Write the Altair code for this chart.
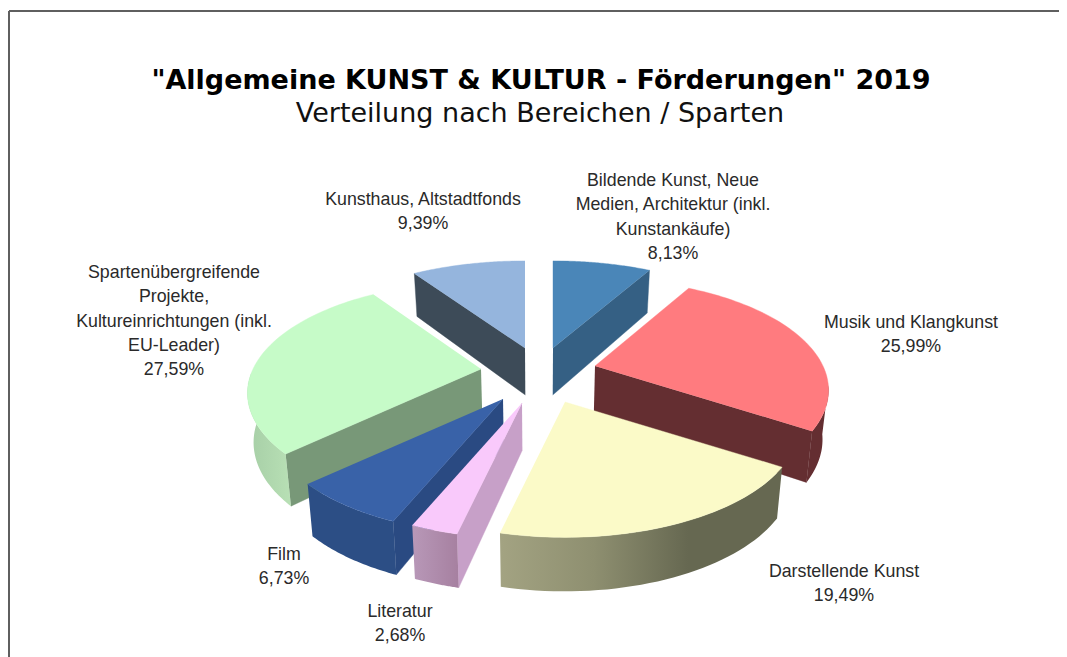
import numpy as np
import pandas as pd
import altair as alt

# --- chart values ---
categories = ["Bildende Kunst, Neue Medien, Architektur (inkl. Kunstankäufe)",
              "Musik und Klangkunst", "Darstellende Kunst", "Literatur", "Film",
              "Spartenübergreifende Projekte, Kultureinrichtungen (inkl. EU-Leader)",
              "Kunsthaus, Altstadtfonds"]
values = [8.13, 25.99, 19.49, 2.68, 6.73, 27.59, 9.39]
title_line = '"Allgemeine KUNST & KULTUR - Förderungen" 2019'
subtitle_line = "Verteilung nach Bereichen / Sparten"
label_lines = [["Bildende Kunst, Neue", "Medien, Architektur (inkl.", "Kunstankäufe)"],
               ["Musik und Klangkunst"], ["Darstellende Kunst"], ["Literatur"], ["Film"],
               ["Spartenübergreifende", "Projekte,", "Kultureinrichtungen (inkl.", "EU-Leader)"],
               ["Kunsthaus, Altstadtfonds"]]

# --- layout and style ---
apex = [(553, 348), (595, 366), (565, 402), (522, 403), (503, 399), (481, 369), (525, 348)]
rx_scale = [1.03, 1.0, 1.0, 1.0, 1.0, 1.0, 1.03]
label_pos = [(673, 181), (911, 323), (844, 572), (400, 612), (284, 555), (174, 273), (423, 200)]
top_col = ["#4a86b8", "#ff7b7f", "#fbfac8", "#f9c9fb", "#3962a8", "#c6fbc8", "#95b5dd"]
side_col = ["#356084", "#642e31", None, "#c7a0c8", "#2a4a82", "#789878", "#3d4b58"]
rim_col = [None, ["#642e31", "#642e31"], ["#a3a382", "#8e8f70", "#666851", "#666851"],
           ["#b898b8", "#a680a0"], ["#2c4e85", "#2c4e85"], ["#a6cea6", "#b8e0b5"], None]
side_edge = ["end", "end", None, "start", "start", "start", "start"]
rim_limits = [None, (100, None), (None, None), (None, None), (None, None), (None, 268), None]
paint_order = [6, 0, 1, 5, 4, 3, 2]
RX, RY, PERSP = 228.0, 106.0, 0.217
CONVERGE, CENTER_X = 0.021, 540.0

X = alt.X("x:Q", scale=alt.Scale(domain=[8, 1059], nice=False, zero=False), axis=None)
Y = alt.Y("y:Q", scale=alt.Scale(domain=[657, 8], nice=False, zero=False), axis=None)


def rim_xy(c, deg, k):
    t = np.radians(deg)
    s = 1.0 / (1.0 + PERSP * np.cos(t))
    return c[0] + RX * rx_scale[k] * np.sin(t) * s, c[1] - RY * np.cos(t) * s


def depth(deg):
    return 48.0 - 6.0 * np.cos(np.radians(deg))


def lower_x(x):
    return x - CONVERGE * (x - CENTER_X)


def poly(xs, ys, fill):
    df = pd.DataFrame({"x": xs, "y": ys, "i": range(len(xs))})
    return alt.Chart(df).mark_line(
        fill=fill, stroke=fill if isinstance(fill, str) else "#777777",
        strokeWidth=0.4 if isinstance(fill, str) else 0, interpolate="linear"
    ).encode(x=X, y=Y, order="i:Q")


def grad(cols):
    n = len(cols) - 1
    return alt.Gradient(gradient="linear", x1=0, x2=1, y1=0, y2=0,
                        stops=[alt.GradientStop(color=c, offset=k / n) for k, c in enumerate(cols)])


edges = np.concatenate([[0], np.cumsum(values)]) * 3.6
layers = []
# frame
frame = pd.DataFrame({"x": [9, 9], "y": [11, 11], "x2": [1059, 9], "y2": [11, 657]})
layers.append(alt.Chart(frame).mark_rule(color="#5f5f5f", strokeWidth=2).encode(x=X, y=Y, x2="x2:Q", y2="y2:Q"))

for k in paint_order:
    a0, a1 = edges[k], edges[k + 1]
    c = apex[k]
    if side_edge[k]:
        e = a1 if side_edge[k] == "end" else a0
        ex, ey = rim_xy(c, e, k)
        layers.append(poly([c[0], ex, lower_x(ex), lower_x(c[0])],
                           [c[1], ey, ey + depth(e), c[1] + 47], side_col[k]))
    if rim_limits[k]:
        lo = rim_limits[k][0] if rim_limits[k][0] is not None else a0
        hi = rim_limits[k][1] if rim_limits[k][1] is not None else a1
        th = np.linspace(lo, hi, 40)
        rx, ry = rim_xy(c, th, k)
        xs = list(rx) + list(lower_x(rx)[::-1])
        ys = list(ry) + list((ry + depth(th))[::-1])
        layers.append(poly(xs, ys, grad(rim_col[k])))
    th = np.linspace(a0, a1, 60)
    rx, ry = rim_xy(c, th, k)
    layers.append(poly([c[0]] + list(rx), [c[1]] + list(ry), top_col[k]))

rows = []
for k, lines in enumerate(label_lines):
    all_lines = lines + [f"{values[k]:.2f}%".replace(".", ",")]
    for j, t in enumerate(all_lines):
        rows.append({"x": label_pos[k][0], "y": label_pos[k][1] + j * 24.3, "t": t})
layers.append(alt.Chart(pd.DataFrame(rows)).mark_text(
    font="Liberation Sans", fontSize=17.8, color="#2a2a2a", align="center", baseline="middle"
).encode(x=X, y=Y, text="t:N"))

heads = pd.DataFrame({"x": [541], "y": [81], "t": [title_line]})
subs = pd.DataFrame({"x": [540], "y": [114], "t": [subtitle_line]})
layers.append(alt.Chart(heads).mark_text(font="DejaVu Sans", fontWeight="bold", fontSize=27, color="#000000",
                                         align="center", baseline="middle").encode(x=X, y=Y, text="t:N"))
layers.append(alt.Chart(subs).mark_text(font="DejaVu Sans", fontSize=27, color="#111111",
                                        align="center", baseline="middle").encode(x=X, y=Y, text="t:N"))

chart = alt.layer(*layers).properties(
    width=1051, height=649, padding=0, autosize=alt.AutoSizeParams(type="none"), background="#ffffff"
).configure_view(stroke=None)
chart.save("out.html", embed_options={"renderer": "svg", "actions": False})
